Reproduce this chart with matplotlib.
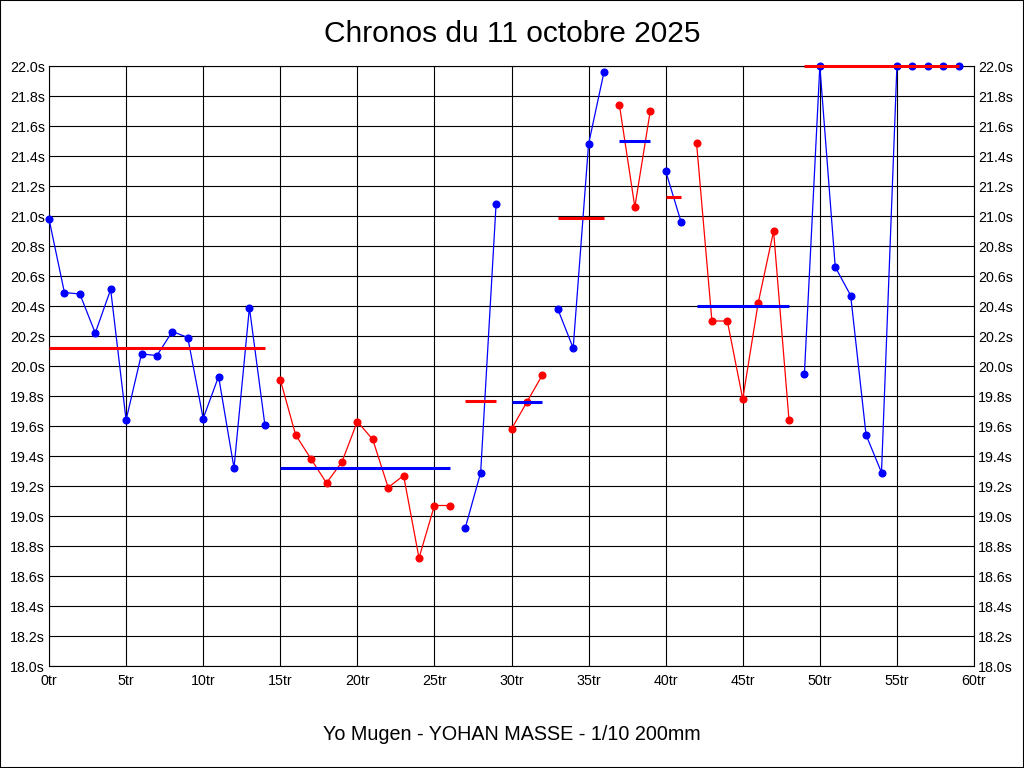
import matplotlib
matplotlib.use("Agg")
import matplotlib.pyplot as plt
from matplotlib.patches import Rectangle

plt.rcParams['font.family'] = ['Liberation Sans', 'DejaVu Sans']

# Lap times (s), laps 0..59
lap_times = [
    20.98, 20.49, 20.48, 20.22, 20.51, 19.64, 20.08, 20.07, 20.23, 20.19,
    19.65, 19.93, 19.32, 20.39, 19.61,
    19.91, 19.54, 19.38, 19.22, 19.36, 19.63, 19.51, 19.19, 19.27, 18.72,
    19.07, 19.07,
    18.92, 19.29, 21.08,
    19.58, 19.76, 19.94,
    20.38, 20.12, 21.48, 21.96,
    21.74, 21.06, 21.70,
    21.30, 20.96,
    21.49, 20.30, 20.30, 19.78, 20.42, 20.90, 19.64,
    19.95, 22.00, 20.66, 20.47, 19.54, 19.29, 22.00, 22.00, 22.00, 22.00, 22.00,
]
segment_first = [0, 15, 27, 30, 33, 37, 40, 42, 49]
segment_last = [14, 26, 29, 32, 36, 39, 41, 48, 59]
segment_avgs = [20.12, 19.32, 19.77, 19.76, 20.99, 21.50, 21.13, 20.40, 22.00]
segment_colors = ['#0000FF', '#FF0000', '#0000FF', '#FF0000', '#0000FF',
                  '#FF0000', '#0000FF', '#FF0000', '#0000FF']
avg_colors = ['#FF0000', '#0000FF', '#FF0000', '#0000FF', '#FF0000',
              '#0000FF', '#FF0000', '#0000FF', '#FF0000']

x_ticks = list(range(0, 61, 5))
x_labels = [f"{v}tr" for v in x_ticks]
y_ticks = [18.0 + 0.2 * i for i in range(21)]
y_labels = [f"{v:.1f}s" for v in y_ticks]

title = "Chronos du 11 octobre 2025"
xlabel = "Yo Mugen - YOHAN MASSE - 1/10 200mm"

fig = plt.figure(figsize=(10.24, 7.68), dpi=100)
ax = fig.add_axes([49 / 1024, 102 / 768, 925 / 1024, 600 / 768])

for i in range(len(segment_first)):
    a, b = segment_first[i], segment_last[i]
    xs = list(range(a, b + 1))
    ys = lap_times[a:b + 1]
    ax.plot(xs, ys, color=segment_colors[i], lw=0.9, marker='o', ms=4.8,
            mec=segment_colors[i], mfc=segment_colors[i], zorder=3, clip_on=False)
    ax.plot([a, b], [segment_avgs[i]] * 2, color=avg_colors[i], lw=2.2,
            solid_capstyle='butt', zorder=4, clip_on=False)

ax.set_xlim(0, 60)
ax.set_ylim(18.0, 22.0)
ax.set_xticks(x_ticks)
ax.set_xticklabels(x_labels)
ax.set_yticks(y_ticks)
ax.set_yticklabels(y_labels)
ax.tick_params(axis='both', length=0, labelsize=10.3, colors='black')
ax.tick_params(axis='x', pad=6)
ax.tick_params(axis='y', pad=3, labelright=True, right=False)
ax.grid(True, color='black', lw=0.8)
ax.set_axisbelow(True)
for s in ax.spines.values():
    s.set_color('black')
    s.set_linewidth(0.8)

fig.text(0.5, 1 - 34 / 768, title, ha='center', va='center', fontsize=21.5)
fig.text(0.5, 1 - 735 / 768, xlabel, ha='center', va='center', fontsize=14.2)

fig.patches.append(Rectangle((0, 0), 1, 1, transform=fig.transFigure,
                             fill=False, edgecolor='black', lw=1.5))

fig.savefig("out.png", dpi=100)
